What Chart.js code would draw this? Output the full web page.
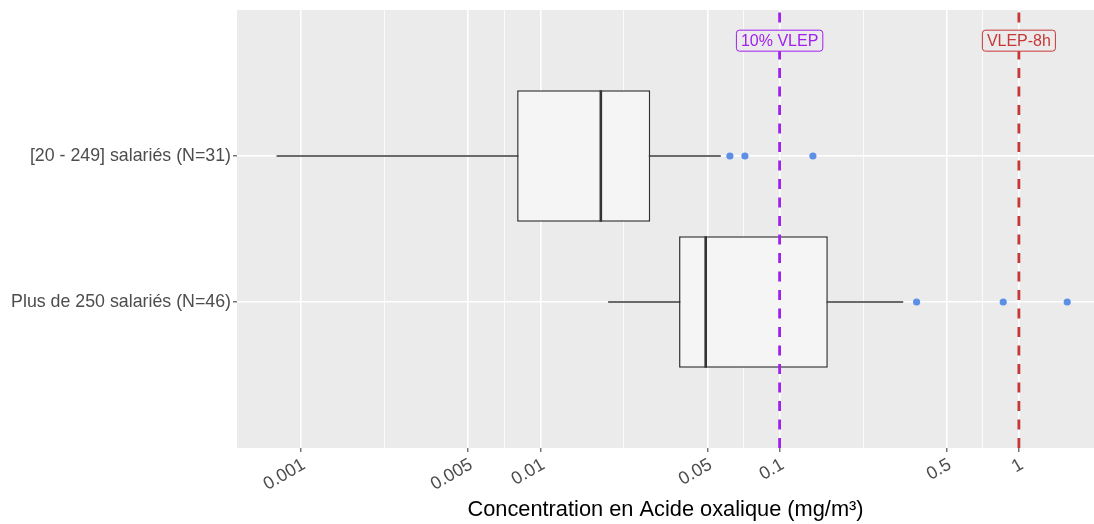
<!DOCTYPE html>
<html><head><meta charset="utf-8">
<script src="https://cdn.jsdelivr.net/npm/chart.js@4.4.1/dist/chart.umd.min.js"></script>
<style>html,body{margin:0;padding:0;background:#fff;overflow:hidden;} #wrap{width:1094px;height:524px;position:relative;} canvas{display:block;}</style>
</head><body><div id="wrap"><canvas id="c"></canvas></div>
<script>
// ---- data ----
const categories = ['[20 - 249] salariés (N=31)', 'Plus de 250 salariés (N=46)'];
const whiskerLow = [0.00079, 0.0192];
const q1 = [0.0080, 0.0380];
const median = [0.0179, 0.0491];
const q3 = [0.0288, 0.159];
const whiskerHigh = [0.0568, 0.3285];
const outliers = [[0.0620, 0.0716, 0.1378], [0.3737, 0.860, 1.592]];
const refValues = [0.1, 1];
const refLabels = ['10% VLEP', 'VLEP-8h'];
const refColors = ['#A020F0', '#C83737'];
const xMajorTicks = [0.001, 0.005, 0.01, 0.05, 0.1, 0.5, 1];
const xTickLabels = ['0.001', '0.005', '0.01', '0.05', '0.1', '0.5', '1'];
const xAxisTitle = 'Concentration en Acide oxalique (mg/m³)';

// ---- layout / style constants ----
const FONT = '"Liberation Sans", Arial, sans-serif';
const X_MIN = 0.00054, X_MAX = 2.06;
const Y_MAX = categories.length + 1;
const BOX_HALF = 0.45;
const LABEL_Y = 2.79;
const catPos = categories.map((c, i) => categories.length - i);

const xMinorTicks = [];
for (let i = 0; i < xMajorTicks.length - 1; i++) xMinorTicks.push(Math.sqrt(xMajorTicks[i] * xMajorTicks[i + 1]));
const allXTicks = xMajorTicks.concat(xMinorTicks).sort((a, b) => a - b);
const isMajor = v => xMajorTicks.some(m => Math.abs(m - v) / m < 1e-6);

const datasets = [];
catPos.forEach((p, i) => datasets.push({
  type: 'line', order: 5, data: [{x: whiskerLow[i], y: p}, {x: whiskerHigh[i], y: p}],
  borderColor: '#3a3a3a', borderWidth: 1.4, pointRadius: 0, fill: false
}));
datasets.push({
  type: 'bar', order: 4, indexAxis: 'y', grouped: false,
  data: catPos.map((p, i) => ({x: [q1[i], q3[i]], y: p})),
  backgroundColor: '#F5F5F5', borderColor: '#333333', borderWidth: 1.5, borderSkipped: false,
  categoryPercentage: 1, barPercentage: 2 * BOX_HALF
});
catPos.forEach((p, i) => datasets.push({
  type: 'line', order: 3, data: [{x: median[i], y: p - BOX_HALF}, {x: median[i], y: p + BOX_HALF}],
  borderColor: '#333333', borderWidth: 2.6, pointRadius: 0, fill: false
}));
datasets.push({
  type: 'scatter', order: 2,
  data: outliers.flatMap((arr, i) => arr.map(v => ({x: v, y: catPos[i]}))),
  backgroundColor: '#5E8FE6', borderColor: '#5E8FE6', pointRadius: 3.6, borderWidth: 0
});
refValues.forEach((v, i) => datasets.push({
  type: 'line', order: 1, data: [{x: v, y: 0}, {x: v, y: Y_MAX}],
  borderColor: refColors[i], borderWidth: 2.8, borderDash: [10, 8.5], pointRadius: 0, fill: false
}));

const bgPlugin = {
  id: 'panelBg',
  beforeDraw(chart) {
    const {ctx, chartArea: a} = chart;
    ctx.save(); ctx.fillStyle = '#EBEBEB';
    ctx.fillRect(a.left, a.top, a.right - a.left, a.bottom - a.top);
    ctx.restore();
  }
};
const labelPlugin = {
  id: 'refLabels',
  afterDatasetsDraw(chart) {
    const {ctx, scales: {x, y}} = chart;
    ctx.save();
    ctx.font = '16px ' + FONT;
    ctx.textAlign = 'center'; ctx.textBaseline = 'middle';
    refValues.forEach((v, i) => {
      const px = x.getPixelForValue(v), py = y.getPixelForValue(LABEL_Y);
      const w = ctx.measureText(refLabels[i]).width + 9, h = 21;
      const l = px - w / 2, t = py - h / 2, r = 3;
      ctx.beginPath();
      ctx.moveTo(l + r, t); ctx.lineTo(l + w - r, t); ctx.quadraticCurveTo(l + w, t, l + w, t + r);
      ctx.lineTo(l + w, t + h - r); ctx.quadraticCurveTo(l + w, t + h, l + w - r, t + h);
      ctx.lineTo(l + r, t + h); ctx.quadraticCurveTo(l, t + h, l, t + h - r);
      ctx.lineTo(l, t + r); ctx.quadraticCurveTo(l, t, l + r, t); ctx.closePath();
      ctx.fillStyle = '#EBEBEB'; ctx.fill();
      ctx.strokeStyle = refColors[i]; ctx.lineWidth = 1; ctx.stroke();
      ctx.fillStyle = refColors[i];
      ctx.fillText(refLabels[i], px, py + 1);
    });
    ctx.restore();
  }
};

new Chart(document.getElementById('c'), {
  type: 'bar',
  data: {datasets},
  plugins: [bgPlugin, labelPlugin],
  options: {
    indexAxis: 'y',
    responsive: true, maintainAspectRatio: false, animation: false,
    layout: {autoPadding: false, padding: {top: 10, right: 0, left: 0, bottom: 0}},
    plugins: {legend: {display: false}, tooltip: {enabled: false}},
    scales: {
      x: {
        type: 'logarithmic', min: X_MIN, max: X_MAX, offset: false,
        afterBuildTicks: s => { s.ticks = allXTicks.map(v => ({value: v})); },
        afterFit: s => { s.height = 76; s.paddingRight = 0; s.paddingLeft = 0; },
        border: {display: false},
        grid: {
          offset: false,
          color: '#FFFFFF',
          lineWidth: c => (c.tick && isMajor(c.tick.value)) ? 1.6 : 0.8,
          tickColor: c => (c.tick && isMajor(c.tick.value)) ? '#444444' : 'rgba(0,0,0,0)',
          tickLength: 4, tickWidth: 1.1
        },
        ticks: {
          autoSkip: false, minRotation: 30, maxRotation: 30, padding: 2, labelOffset: 3,
          color: '#4D4D4D', font: {size: 18, family: FONT},
          callback: v => { const k = xMajorTicks.findIndex(m => Math.abs(m - v) / m < 1e-6); return k >= 0 ? xTickLabels[k] : ''; }
        },
        title: {display: true, text: xAxisTitle, color: '#000000', font: {size: 21.8, family: FONT}, padding: {top: 0, bottom: 1}}
      },
      y: {
        type: 'linear', min: 0, max: Y_MAX, offset: false,
        afterFit: s => { s.width = 237; s.paddingTop = 0; s.paddingBottom = 0; },
        border: {display: false},
        grid: {
          offset: false,
          color: c => (c.tick && c.tick.value >= 1 && c.tick.value <= categories.length) ? '#FFFFFF' : 'rgba(0,0,0,0)',
          tickColor: c => (c.tick && c.tick.value >= 1 && c.tick.value <= categories.length) ? '#444444' : 'rgba(0,0,0,0)',
          lineWidth: 1.6, tickLength: 4, tickWidth: 1.1
        },
        ticks: {
          stepSize: 1, padding: 2, color: '#4D4D4D', font: {size: 17.8, family: FONT},
          callback: v => { const k = catPos.indexOf(v); return k >= 0 ? categories[k] : ''; }
        }
      }
    }
  }
});
</script></body></html>
